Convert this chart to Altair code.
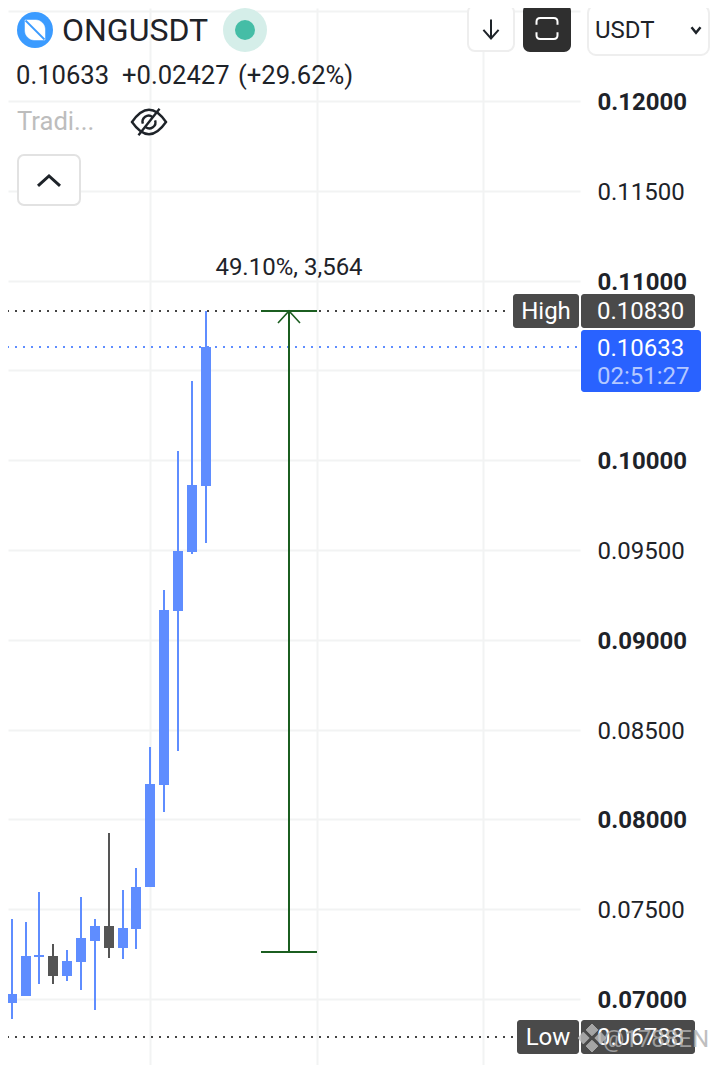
import altair as alt
import pandas as pd

index = list(range(16))
opens = [0.07317, 0.06978, 0.07017, 0.07234, 0.07239, 0.07128, 0.07206, 0.07323, 0.07406, 0.07284, 0.07390, 0.07624, 0.08192, 0.09160, 0.09489, 0.09856]
closes = [0.06978, 0.07028, 0.07239, 0.07245, 0.07128, 0.07212, 0.07340, 0.07406, 0.07284, 0.07395, 0.07624, 0.08197, 0.09166, 0.09494, 0.09862, 0.10633]
highs = [0.07317, 0.07445, 0.07429, 0.07596, 0.07306, 0.07273, 0.07568, 0.07445, 0.07924, 0.07607, 0.07729, 0.08403, 0.09277, 0.10051, 0.10441, 0.10830]
lows = [0.06978, 0.06889, 0.07017, 0.07084, 0.07084, 0.07100, 0.07050, 0.06939, 0.07228, 0.07223, 0.07278, 0.07624, 0.08041, 0.08381, 0.09478, 0.09539]

price_ticks = [0.07, 0.075, 0.08, 0.085, 0.09, 0.095, 0.10, 0.105, 0.11, 0.115, 0.12, 0.125]
time_ticks = [11, 23, 35]
high_price = 0.10830
last_price = 0.10633
low_price = 0.06788
measure_low = 0.07262
measure_x = 21
measure_cap = [19, 23]
arrow_x = [20.2, 21.8]
arrow_base = 0.10764

BLUE = "#5f8dff"
DARK = "#555555"
INK = "#1e2329"
GRID = "#f2f3f3"
FONT = "Roboto"
GREEN = "#1b5e20"

W, H = 572, 1057
x_scale = alt.Scale(domain=[0.736, 42.006], nice=False, zero=False, padding=0, round=True)
y_scale = alt.Scale(domain=[0.06633, 0.12518], nice=False, zero=False, padding=0, round=True)
X = lambda f: alt.X(f, type="quantitative", scale=x_scale)
Y = lambda f: alt.Y(f, type="quantitative", scale=y_scale)

candles = pd.DataFrame({"i": index, "o": opens, "c": closes, "h": highs, "l": lows})
candles["dir"] = ["up" if c >= o else "down" for o, c in zip(opens, closes)]
color = alt.Color("dir:N", scale=alt.Scale(domain=["up", "down"], range=[BLUE, DARK]), legend=None)

one = pd.DataFrame({"k": [0]})


def px(v):
    return alt.value(v - 8)


def box(x0, x1, y0, y1, fill, stroke=None, radius=0, sw=2):
    kw = dict(fill=fill, cornerRadius=radius)
    if stroke:
        kw.update(stroke=stroke, strokeWidth=sw)
    return alt.Chart(one).mark_rect(**kw).encode(x=px(x0), x2=px(x1), y=px(y0), y2=px(y1))


def label(t, x, y, size=24, col=INK, align="left", weight="normal", opacity=1.0):
    return alt.Chart(pd.DataFrame({"t": [t]})).mark_text(
        font=FONT, fontSize=size, color=col, align=align, baseline="middle",
        fontWeight=weight, opacity=opacity
    ).encode(x=px(x), y=px(y + 1), text="t:N")


def glyph(path, x, y, span, col=INK, sw=2.5, fill=None, opacity=1.0):
    kw = dict(shape=path, size=span * span, opacity=opacity, strokeWidth=sw, stroke=col)
    if fill:
        kw.update(filled=True, fill=fill)
    else:
        kw.update(filled=False)
    return alt.Chart(one).mark_point(**kw).encode(x=px(x), y=px(y))


def dot(x, y, d, col):
    return alt.Chart(one).mark_point(shape="circle", size=d * d, filled=True, fill=col, opacity=1, strokeWidth=0).encode(x=px(x), y=px(y))


grid = alt.Chart(one).mark_point(opacity=0).encode(
    x=alt.X("k:Q", scale=x_scale, title=None, axis=alt.Axis(
        values=time_ticks, grid=True, gridColor=GRID, gridWidth=2, labels=False,
        ticks=False, domain=False, title=None)),
    y=alt.Y("k:Q", scale=y_scale, title=None, axis=alt.Axis(
        orient="right", values=price_ticks, grid=True, gridColor=GRID, gridWidth=2,
        ticks=False, domain=False, title=None, labelPadding=17, labelFont=FONT,
        labelFontSize=24, labelColor=INK, labelFlush=False, labelOverlap=False, labelOffset=1,
        labelExpr="(datum.value > 0.1225 || abs(datum.value - 0.105) < 0.001) ? '' : format(datum.value, '.5f')",
        labelFontWeight={"condition": {"test": "round(datum.value*1000)%10==0", "value": "bold"}, "value": "normal"})),
)

wicks = alt.Chart(candles).mark_rule(strokeWidth=2, clip=True).encode(x=X("i"), y=Y("l"), y2="h:Q", color=color)
bodies = alt.Chart(candles).mark_bar(size=10, clip=True, orient="vertical").encode(x=X("i"), y=Y("o"), y2="c:Q", color=color)


def dotted(price, x_end, col):
    d = pd.DataFrame({"a": [0.087], "b": [x_end], "p": [price]})
    return alt.Chart(d).mark_rule(strokeWidth=2, strokeDash=[2, 6], color=col).encode(x=X("a"), x2="b:Q", y=Y("p"))


high_line = dotted(high_price, 36.9, "#444444")
last_line = dotted(last_price, 41.9, BLUE)
low_line = dotted(low_price, 37.3, "#444444")

stem = alt.Chart(pd.DataFrame({"x": [measure_x], "a": [measure_low], "b": [high_price]})).mark_rule(
    strokeWidth=2, color=GREEN).encode(x=X("x"), y=Y("a"), y2="b:Q")
caps = alt.Chart(pd.DataFrame({"a": [measure_cap[0]] * 2, "b": [measure_cap[1]] * 2, "p": [high_price, measure_low]})).mark_rule(
    strokeWidth=2, color=GREEN).encode(x=X("a"), x2="b:Q", y=Y("p"))
arrow = alt.Chart(pd.DataFrame({
    "x": [arrow_x[0], measure_x, arrow_x[1]], "p": [arrow_base, high_price, arrow_base]
})).mark_line(strokeWidth=1.6, color=GREEN).encode(x=X("x"), y=Y("p"))
measure_text = alt.Chart(pd.DataFrame({"x": [measure_x], "p": [0.11068], "t": ["49.10%, 3,564"]})).mark_text(
    font=FONT, fontSize=24, color=INK, align="center", baseline="middle").encode(x=X("x"), y=Y("p"), text="t:N")

layers = [
    grid, wicks, bodies, high_line, last_line, low_line, stem, caps, arrow, measure_text,
    # header
    dot(35, 30, 36, "#3b9bff"),
    glyph("M-1,-1L0.1,-1A0.95,0.95 0 0,1 1,-0.1L1,1L-0.1,1A0.95,0.95 0 0,1 -1,0.1Z", 35, 30, 20, "#ffffff", 0.5, "#ffffff"),
    glyph("M-1,-1L1,1", 35, 30, 19, "#3b9bff", 1.8),
    label("ONGUSDT", 62, 30, 32),
    dot(245, 30, 44, "#d5eee9"),
    dot(245, 30, 20, "#45bda6"),
    label("0.10633", 16, 75, 25.6),
    label("+0.02427", 122, 75, 25.6),
    label("(+29.62%)", 238, 75, 25.6),
    label("Tradi...", 17, 121, 25.6, "#bdbdbd"),
    glyph("M-1,0Q-0.5,-0.72 0,-0.72Q0.5,-0.72 1,0Q0.5,0.72 0,0.72Q-0.5,0.72 -1,0ZM-0.36,0.1A0.36,0.36 0 0,1 0.2,-0.3M0.36,-0.1A0.36,0.36 0 0,1 -0.2,0.3M-0.62,0.78L0.62,-0.78",
          149, 122, 34, INK, 2.4),
    box(18, 80, 155, 205, "#ffffff", "#e2e2e2", 6),
    glyph("M-1,0.9L0,0L1,0.9", 49, 176, 22, INK, 3),
    # top right controls
    box(468, 514, 5, 51, "#ffffff", "#eeeeee", 7),
    glyph("M0,-1L0,1M-0.8,0.1L0,1L0.8,0.1", 491, 29, 19, INK, 2),
    box(523, 571, 4, 52, "#2f2f2f", None, 7),
    glyph("M-1,-0.35L-1,-0.65Q-1,-1 -0.65,-1L0.65,-1Q1,-1 1,-0.65L1,-0.35M1,0.35L1,0.65Q1,1 0.65,1L-0.65,1Q-1,1 -1,0.65L-1,0.35",
          547, 28.5, 21, "#ffffff", 2),
    box(588, 709, 5, 55, "#ffffff", "#eeeeee", 8),
    label("USDT", 595, 30, 24),
    glyph("M-1,-0.6L0,0.6L1,-0.6", 696, 30, 9, INK, 2.5),
    # price tags
    box(513, 579, 294, 328, "#4a4a4a", None, 3),
    label("High", 546, 311, 24, "#ffffff", "center"),
    box(581, 695, 294, 328, "#4a4a4a", None, 3),
    label("0.10830", 597, 311, 24, "#ffffff"),
    box(581, 701, 330, 392, "#2962ff", None, 3),
    label("0.10633", 597, 348, 24, "#ffffff"),
    label("02:51:27", 597, 376, 24, "#b4c8ff"),
    box(517, 579, 1020, 1054, "#4a4a4a", None, 3),
    label("Low", 548, 1037, 24, "#ffffff", "center"),
    box(581, 695, 1020, 1054, "#4a4a4a", None, 3),
    label("0.06788", 597, 1037, 24, "#ffffff"),
    # watermark
    glyph("M0,-1L0.42,-0.58L0,-0.16L-0.42,-0.58ZM0,1L0.42,0.58L0,0.16L-0.42,0.58ZM-0.62,-0.42L-0.2,0L-0.62,0.42L-1,0ZM0.62,-0.42L0.2,0L0.62,0.42L1,0Z",
          592, 1038, 28, "#b5b5b5", 1, "#b5b5b5", 0.85),
    label("@1788EN", 709, 1039, 24, "#b0b0b0", "right", opacity=0.8),
]

chart = alt.layer(*layers).properties(
    width=W, height=H,
    padding={"left": 0, "right": 130, "top": 0, "bottom": 0},
    autosize=alt.AutoSizeParams(type="none"),
    background="#ffffff",
).configure_view(stroke=None)

chart.save("out.html", embed_options={"renderer": "svg", "actions": False})
